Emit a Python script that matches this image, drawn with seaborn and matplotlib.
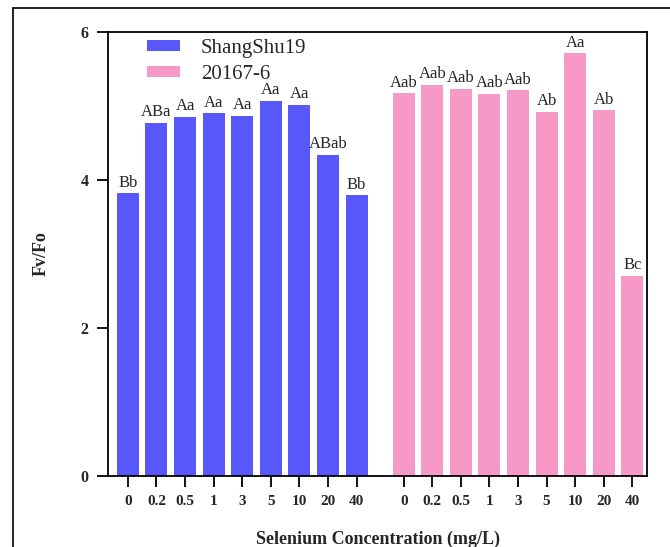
import numpy as np
import pandas as pd
import matplotlib.pyplot as plt
import seaborn as sns

sns.set_style("ticks")
plt.rcParams['font.family'] = ['Liberation Serif', 'DejaVu Serif']

concentrations = ['0', '0.2', '0.5', '1', '3', '5', '10', '20', '40']
shangshu19 = [3.82, 4.77, 4.85, 4.90, 4.87, 5.07, 5.01, 4.34, 3.79]
c20167 = [5.17, 5.28, 5.23, 5.16, 5.21, 4.92, 5.71, 4.94, 2.70]
letters_shangshu19 = ['Bb', 'ABa', 'Aa', 'Aa', 'Aa', 'Aa', 'Aa', 'ABab', 'Bb']
letters_20167 = ['Aab', 'Aab', 'Aab', 'Aab', 'Aab', 'Ab', 'Aa', 'Ab', 'Bc']
cultivars = ['ShangShu19', '20167-6']
colors = ['#5858FA', '#F799C7']

n = len(concentrations)
gap = 0.65
pos = np.concatenate([np.arange(n), np.arange(n) + n + gap])

df = pd.DataFrame({
    'pos': pos,
    'value': shangshu19 + c20167,
    'cultivar': [cultivars[0]] * n + [cultivars[1]] * n,
})

fig, ax = plt.subplots(figsize=(6.7, 5.47), dpi=100)
fig.subplots_adjust(left=0.161, right=0.966, bottom=0.130, top=0.9415)

sns.barplot(data=df, x='pos', y='value', hue='cultivar', palette=colors,
            native_scale=True, width=0.77, saturation=1, linewidth=0, ax=ax)

for cont, labs in zip(ax.containers, [letters_shangshu19, letters_20167]):
    ax.bar_label(cont, labels=labs, padding=2, fontsize=12)

ax.set_xticks(pos)
ax.set_xticklabels(concentrations * 2, fontweight='bold', fontsize=11)
ax.set_xlim(-0.7, pos[-1] + 0.52)
ax.set_ylim(0, 6)
ax.set_yticks([0, 2, 4, 6])
ax.set_yticklabels(['0', '2', '4', '6'], fontweight='bold', fontsize=11.5)
ax.tick_params(axis='both', length=8, width=1.3, color='black', pad=6)
for s in ax.spines.values():
    s.set_visible(True)
    s.set_linewidth(1.3)
    s.set_color('black')

ax.set_xlabel('Selenium Concentration (mg/L)', fontweight='bold', fontsize=13, labelpad=16)
ax.set_ylabel('Fv/Fo', fontweight='bold', fontsize=13, labelpad=22)

sns.move_legend(ax, 'upper left', bbox_to_anchor=(0.072, 0.985), frameon=False,
                title=None, fontsize=15, handlelength=1.6, handleheight=0.45,
                handletextpad=1.0, labelspacing=0.35, borderpad=0, borderaxespad=0)

fig.add_artist(plt.Line2D([13 / 670, 1], [1 - 8 / 547] * 2, transform=fig.transFigure,
                          color='black', lw=1.2))
fig.add_artist(plt.Line2D([13 / 670] * 2, [0, 1 - 8 / 547], transform=fig.transFigure,
                          color='black', lw=1.2))

fig.savefig('out.png', dpi=100)
